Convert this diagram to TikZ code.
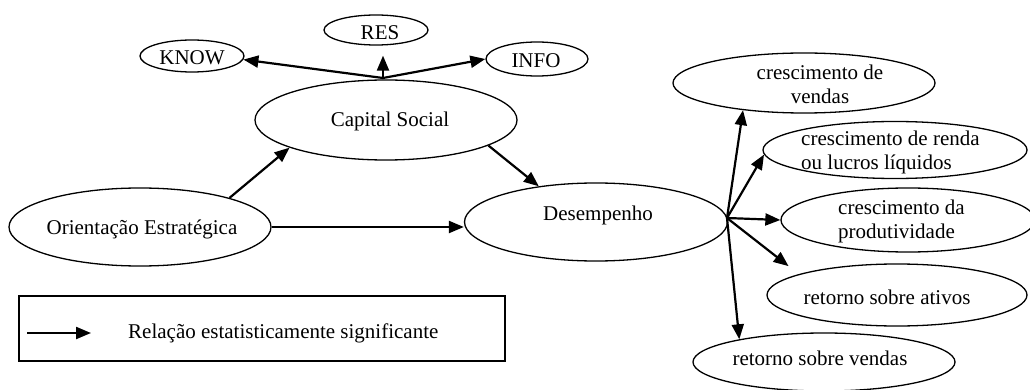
\documentclass[tikz,border=0pt]{standalone}
\usepackage{fontspec}
\setmainfont{Liberation Serif}
\usetikzlibrary{shapes.geometric,arrows.meta}
\begin{document}
\begin{tikzpicture}[x=1pt,y=-1pt,
  oval/.style={ellipse,draw,line width=1.3pt,inner sep=0pt},
  lbl/.style={font=\fontsize{21}{24}\selectfont,inner sep=0pt,align=center},
  arr/.style={line width=2.2pt,-{Triangle[length=15pt,width=12pt]}}]
\clip (0,0) rectangle (1030,390);
\fill[white] (0,0) rectangle (1030,390);

% social capital dimensions
\node[oval,minimum width=104pt,minimum height=32pt] (know) at (192,56) {};
\node[lbl] (know-t) at (192,58) {KNOW};
\node[oval,minimum width=104pt,minimum height=30pt] (res) at (376,30) {};
\node[lbl] (res-t) at (380,33) {RES};
\node[oval,minimum width=102pt,minimum height=34pt] (info) at (537,59) {};
\node[lbl] (info-t) at (536,61) {INFO};

% core constructs
\node[oval,minimum width=262pt,minimum height=80pt] (cs) at (386,120) {};
\node[lbl] (cs-t) at (390,121) {Capital Social};
\node[oval,minimum width=262pt,minimum height=78pt] (or) at (140,227) {};
\node[lbl] (or-t) at (142,229) {Orientação Estratégica};
\node[oval,minimum width=263pt,minimum height=78pt] (ds) at (596,222) {};
\node[lbl] (ds-t) at (598,215) {Desempenho};

% performance measures
\node[oval,minimum width=262pt,minimum height=60pt] (v) at (804,83) {};
\node[lbl] (v-t) at (820,84) {crescimento de\\vendas};
\node[oval,minimum width=264pt,minimum height=57pt] (r) at (895,150) {};
\node[lbl,align=left,anchor=west] (r-t) at (801,152) {crescimento de renda\\ou lucros líquidos};
\node[oval,minimum width=254pt,minimum height=64pt] (p) at (908,220) {};
\node[lbl,align=left,anchor=west] (p-t) at (838,221) {crescimento da\\produtividade};
\node[oval,minimum width=260pt,minimum height=62pt] (a) at (897,295) {};
\node[lbl] (a-t) at (887,297) {retorno sobre ativos};
\node[oval,minimum width=262pt,minimum height=58pt] (rv) at (824,362) {};
\node[lbl] (rv-t) at (820,358) {retorno sobre vendas};

% relations
\coordinate (ch) at (383,78);
\draw[arr] (ch) -- (know.-4);
\draw[arr,shorten >=10pt] (ch) -- (ch |- res.south);
\draw[arr] (ch) -- (info.west);
\draw[arr] (or.18.8) -- (cs.196.4);
\draw[arr] (cs.-14.7) -- (ds.148.4);
\draw[arr] (or.east) -- (or.east -| ds.west);
\coordinate (dh) at (727,218);
\draw[arr] (dh) -- (v.204);
\draw[arr] (dh) -- (r.182);
\draw[arr] (dh) -- (p.west);
\draw[arr,shorten >=13pt] (dh) -- (a.168.6);
\draw[arr] (dh) -- (rv.165);

% legend
\node[draw,line width=2pt,minimum width=486pt,minimum height=65pt,inner sep=0pt] (leg) at (262,328.5) {};
\coordinate (la) at (27,333);
\coordinate (lb) at (91,333);
\draw[arr] (la) -- (lb);
\node[lbl,anchor=west] (leg-t) at (128,333) {Relação estatisticamente significante};
\end{tikzpicture}
\end{document}
